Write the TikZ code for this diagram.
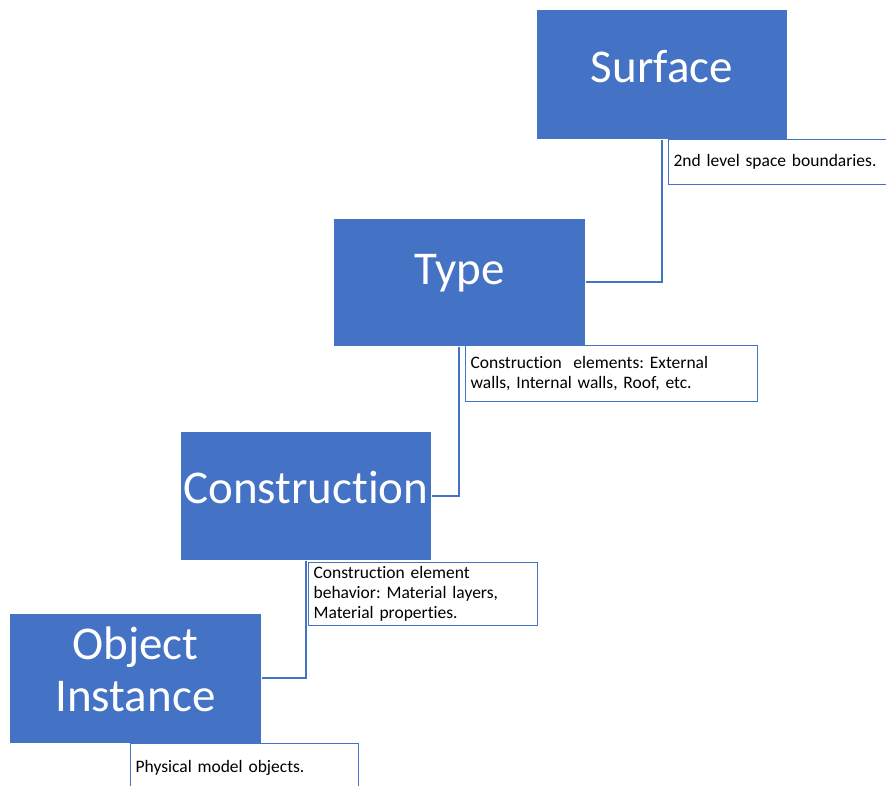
\documentclass[tikz,border=0pt]{standalone}
\usepackage{fontspec}
\setmainfont{Carlito}[Ligatures={NoCommon}]
\definecolor{officeblue}{HTML}{4472C4}
\frenchspacing
\begin{document}
\begin{tikzpicture}[x=1pt,y=-1pt,
  bluebox/.style={rectangle,fill=officeblue,draw=white,line width=0.8pt,anchor=north west,inner sep=0pt},
  titletext/.style={text=white,font=\fontsize{47}{52}\selectfont,align=center,inner sep=0pt},
  notebox/.style={rectangle,draw=officeblue,line width=1.2pt,fill=white,anchor=north west,inner xsep=5pt,inner ysep=0pt,align=left,font=\fontsize{17.5}{20}\selectfont\frenchspacing},
  conn/.style={draw=officeblue,line width=2pt}]
\path[use as bounding box] (0,0) rectangle (886,785);
\clip (0,0) rectangle (886,785);
% boxes
\node[bluebox,minimum width=251pt,minimum height=130pt] (surface) at (536,9) {};
\node[bluebox,minimum width=252pt,minimum height=128pt] (type) at (333,218) {};
\node[bluebox,minimum width=251pt,minimum height=129pt] (construction) at (180,431) {};
\node[bluebox,minimum width=252pt,minimum height=130pt] (object) at (9,613) {};
% titles
\node[titletext] (surfacet) at ([yshift=8pt]surface.center) {Surface};
\node[titletext] (typet) at ([yshift=9pt]type.center) {Type};
\node[titletext] (constructiont) at ([yshift=8pt]construction.center) {Construction};
\node[titletext] (objectt) at ([yshift=9pt]object.center) {Object\\Instance};
% connectors
\draw[conn] (surface.south) |- (type.east);
\draw[conn] (type.south) |- (construction.east);
\draw[conn] (construction.south) |- (object.east);
% notes
\node[notebox,text width=230pt,minimum height=45pt] (surfacen) at (668,139) {2nd level space boundaries.};
\node[notebox,text width=282pt,minimum height=56pt] (typen) at (465,345) {Construction~ elements: External\\walls, Internal walls, Roof, etc.};
\node[notebox,text width=219pt,minimum height=63pt] (constructionn) at (308,562) {Construction element\\behavior: Material layers,\\Material properties.};
\node[notebox,text width=218pt,minimum height=48pt] (objectn) at (130,743) {Physical model objects.};
\end{tikzpicture}
\end{document}
